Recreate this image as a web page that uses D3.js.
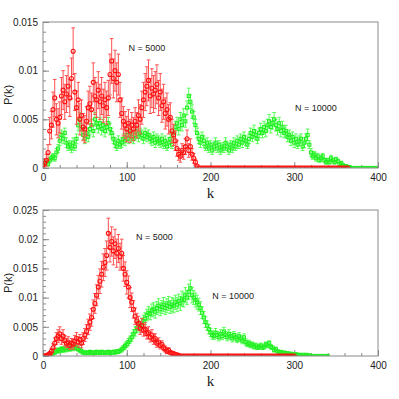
<!DOCTYPE html>
<html>
<head>
<meta charset="utf-8">
<script src="https://cdn.jsdelivr.net/npm/d3@7/dist/d3.min.js"></script>
<style>
  body { margin: 0; background: #fff; }
  svg { display: block; }
  .axis text { font-family: 'Liberation Sans', Arial, sans-serif; font-size: 10px; fill: #222; }
  .axis line { stroke: #8a8a8a; }
  .note { font-family: 'Liberation Sans', Arial, sans-serif; font-size: 9px; fill: #222; }
  .ylab { font-family: 'Liberation Sans', Arial, sans-serif; font-size: 11px; fill: #222; }
  .xlab { font-family: 'Liberation Serif', 'Times New Roman', serif; font-size: 15px; fill: #222; }
</style>
</head>
<body>
<div id="chart"></div>
<script>
// k is sampled every 2, values and errors are in units of 1e-4
var kStep = 2;
var kTicks = [0, 100, 200, 300, 400];

// top panel
var topTicks = [0, 0.005, 0.01, 0.015];
var topRed = [
  3, 5, 8, 16, 38, 44, 60, 72, 50, 46,
  52, 74, 80, 68, 76, 84, 72, 92, 120, 78,
  62, 70, 50, 54, 42, 40, 48, 62, 66, 60,
  88, 74, 70, 80, 68, 74, 64, 70, 62, 72,
  96, 110, 92, 100, 88, 96, 70, 56, 48, 44,
  40, 46, 38, 44, 40, 48, 44, 54, 50, 62,
  70, 78, 84, 90, 74, 82, 76, 80, 86, 72,
  78, 64, 68, 56, 60, 50, 52, 38, 34, 28,
  20, 14, 12, 18, 16, 22, 30, 18, 22, 14,
  10, 6, 2, 0, 0, 0, 0, 0, 0, 0,
  0, 0, 0, 0, 0, 0, 0, 0, 0, 0, 0, 0, 0, 0, 0, 0, 0, 0, 0, 0,
  0, 0, 0, 0, 0, 0, 0, 0, 0, 0, 0, 0, 0, 0, 0, 0, 0, 0, 0, 0,
  0, 0, 0, 0, 0, 0, 0, 0, 0, 0, 0, 0, 0, 0, 0, 0, 0, 0, 0, 0,
  0, 0, 0, 0, 0, 0, 0, 0, 0, 0, 0, 0, 0, 0, 0, 0, 0, 0, 0, 0,
  0, 0, 0
];
var topRedErr = [
  3, 4, 6, 8, 14, 14, 18, 19, 16, 15,
  16, 19, 20, 18, 19, 21, 19, 21, 24, 19,
  17, 18, 16, 16, 14, 14, 15, 17, 18, 17,
  20, 19, 18, 19, 18, 19, 17, 18, 17, 18,
  21, 23, 20, 21, 20, 21, 18, 16, 15, 14,
  13, 14, 12, 13, 12, 14, 13, 16, 15, 17,
  18, 19, 20, 21, 18, 20, 19, 19, 20, 18,
  19, 17, 18, 16, 17, 15, 15, 12, 11, 10,
  8, 6, 6, 7, 7, 8, 9, 7, 8, 6,
  5, 3, 1
];
var topGreen = [
  3, 5, 6, 4, 8, 10, 12, 10, 16, 20,
  28, 34, 30, 36, 26, 22, 24, 20, 26, 22,
  30, 44, 50, 40, 34, 30, 36, 32, 40, 44,
  38, 50, 46, 42, 46, 40, 44, 38, 42, 46,
  40, 36, 30, 26, 22, 28, 24, 26, 30, 28,
  34, 30, 36, 32, 30, 34, 38, 32, 36, 34,
  30, 36, 32, 34, 30, 28, 32, 26, 30, 28,
  26, 30, 24, 28, 22, 26, 30, 24, 36, 42,
  46, 40, 50, 44, 54, 48, 62, 74, 68, 58,
  52, 44, 36, 30, 26, 32, 28, 22, 26, 20,
  24, 18, 22, 26, 20, 24, 18, 22, 20, 26,
  22, 18, 24, 20, 26, 22, 28, 24, 30, 26,
  32, 28, 24, 30, 36, 32, 38, 34, 30, 36,
  40, 36, 42, 38, 44, 48, 42, 46, 50, 44,
  40, 46, 38, 42, 36, 38, 32, 34, 28, 32,
  26, 30, 24, 28, 30, 22, 26, 30, 34, 24,
  16, 12, 14, 10, 12, 8, 10, 12, 8, 6,
  8, 6, 10, 8, 6, 9, 7, 4, 5, 3,
  2, 2, 1, 1,
  0, 0, 0, 0, 0, 0, 0, 0, 0, 0, 0, 0, 0, 0, 0, 0, 0
];
var topGreenErr = [
  2, 2, 3, 2, 3, 3, 3, 3, 4, 4,
  5, 5, 5, 5, 5, 4, 4, 4, 5, 4,
  5, 6, 7, 6, 5, 5, 5, 5, 6, 6,
  6, 7, 6, 6, 6, 6, 6, 6, 6, 6,
  6, 5, 5, 5, 4, 5, 4, 5, 5, 5,
  5, 5, 5, 5, 5, 5, 5, 5, 5, 5,
  5, 5, 5, 5, 5, 5, 5, 5, 5, 5,
  5, 5, 4, 5, 4, 5, 5, 4, 5, 6,
  6, 6, 7, 6, 7, 6, 7, 8, 7, 7,
  6, 6, 5, 5, 5, 5, 5, 4, 5, 4,
  4, 4, 4, 5, 4, 4, 4, 4, 4, 5,
  4, 4, 4, 4, 5, 4, 5, 4, 5, 5,
  5, 5, 4, 5, 5, 5, 6, 5, 5, 5,
  6, 5, 6, 6, 6, 7, 6, 6, 7, 6,
  6, 6, 6, 6, 5, 6, 5, 5, 5, 5,
  5, 5, 4, 5, 5, 4, 5, 5, 6, 4,
  4, 3, 3, 3, 3, 2, 3, 3, 2, 2,
  2, 2, 3, 2, 2, 2, 2, 2, 2, 1,
  1, 1, 1, 1
];

// bottom panel
var bottomTicks = [0, 0.005, 0.01, 0.015, 0.02, 0.025];
var bottomRed = [
  0, 0, 1, 2, 4, 8, 14, 22, 30, 34,
  38, 30, 34, 26, 22, 24, 18, 22, 20, 26,
  30, 24, 28, 22, 30, 36, 42, 50, 58, 66,
  80, 90, 104, 118, 128, 140, 152, 160, 172, 210,
  186, 196, 180, 192, 176, 184, 170, 176, 150, 140,
  126, 118, 100, 92, 80, 68, 60, 56, 48, 52,
  44, 46, 38, 40, 32, 36, 28, 30, 22, 24,
  18, 20, 14, 12, 8, 10, 6, 5, 4, 3,
  2, 1,
  0, 0, 0, 0, 0, 0, 0, 0, 0, 0, 0, 0, 0, 0, 0, 0, 0, 0, 0, 0,
  0, 0, 0, 0, 0, 0, 0, 0, 0, 0, 0, 0, 0, 0, 0, 0, 0, 0, 0, 0,
  0, 0, 0, 0, 0, 0, 0, 0, 0, 0, 0, 0, 0, 0, 0, 0, 0, 0, 0, 0,
  0, 0, 0, 0, 0, 0, 0, 0, 0
];
var bottomRedErr = [
  0, 0, 1, 2, 3, 5, 7, 9, 10, 11,
  12, 10, 11, 9, 8, 9, 7, 8, 8, 9,
  10, 9, 9, 8, 10, 11, 12, 13, 14, 15,
  16, 17, 18, 20, 21, 22, 23, 24, 25, 26,
  25, 25, 24, 25, 24, 24, 23, 24, 22, 21,
  20, 19, 17, 16, 15, 14, 13, 12, 11, 12,
  10, 11, 9, 10, 8, 9, 8, 8, 7, 7,
  6, 6, 5, 5, 4, 4, 3, 3, 2, 2,
  1, 1
];
var bottomGreen = [
  0, 0, 1, 1, 2, 3, 5, 6, 8, 10,
  9, 12, 10, 13, 11, 14, 12, 15, 13, 16,
  14, 12, 10, 8, 6, 5, 6, 5, 7, 5,
  6, 5, 7, 6, 5, 7, 6, 5, 6, 7,
  5, 6, 7, 6, 8, 7, 9, 11, 14, 17,
  20, 24, 28, 32, 38, 42, 48, 52, 50, 56,
  60, 64, 70, 74, 72, 78, 80, 76, 82, 86,
  80, 84, 88, 82, 86, 90, 84, 88, 86, 92,
  88, 94, 90, 98, 96, 104, 100, 110, 116, 104,
  100, 96, 92, 88, 82, 74, 66, 58, 52, 46,
  40, 36, 34, 40, 36, 32, 38, 34, 42, 36,
  32, 38, 34, 30, 36, 32, 28, 34, 30, 26,
  32, 24, 20, 22, 18, 20, 16, 18, 14, 16,
  18, 14, 16, 20, 18, 22, 16, 14, 10, 12,
  8, 6, 7, 5, 6, 4, 5, 3, 4, 3,
  2, 3, 2, 2, 1, 2, 1, 2, 1, 1,
  0, 0, 0, 0, 0, 0, 0, 0, 0, 0, 0
];
var bottomGreenErr = [
  0, 0, 1, 1, 2, 2, 3, 3, 3, 4,
  4, 4, 4, 4, 4, 4, 4, 5, 4, 5,
  4, 4, 4, 3, 3, 2, 3, 2, 3, 2,
  3, 2, 3, 3, 2, 3, 3, 2, 3, 3,
  2, 3, 3, 3, 3, 3, 3, 4, 4, 5,
  5, 6, 6, 7, 7, 8, 8, 9, 9, 9,
  10, 10, 10, 11, 10, 11, 11, 11, 11, 12,
  11, 11, 12, 11, 12, 12, 11, 12, 12, 12,
  12, 12, 12, 13, 12, 13, 12, 13, 14, 13,
  12, 12, 12, 11, 11, 10, 10, 9, 8, 8,
  7, 7, 6, 7, 6, 6, 7, 6, 7, 6,
  6, 7, 6, 6, 6, 6, 5, 6, 5, 5,
  6, 5, 4, 5, 4, 4, 4, 4, 3, 4,
  4, 3, 4, 4, 4, 4, 4, 3, 3, 3,
  2, 2, 2, 2, 2, 2, 2, 1, 2, 1,
  1, 1, 1, 1, 1, 1, 1, 1, 1, 1
];

var labels5000 = 'N = 5000';
var labels10000 = 'N = 10000';

var width = 399;
var height = 399;

var svg = d3.select('#chart').append('svg')
  .attr('width', width)
  .attr('height', height);

// 値配列を点のリストにする
function toPoints(vals, errs) {
  return vals.map(function(v, i) {
    return { k: i * kStep, v: v * 1e-4, e: (errs[i] || 0) * 1e-4 };
  });
}

function fmtY(d) {
  return d === 0 ? '0' : String(+d.toFixed(3));
}

function drawPanel(cfg) {
  var x = d3.scaleLinear().domain([0, 400]).range([43, 378]);
  var y = d3.scaleLinear().domain([0, cfg.yMax]).range([cfg.bottom, cfg.top]);

  var g = svg.append('g').classed('panel', true);

  // clip for the markers
  svg.append('clipPath').attr('id', 'clip-' + cfg.name)
    .append('rect')
    .attr('x', x(0))
    .attr('y', y(cfg.yMax))
    .attr('width', x(400) - x(0))
    .attr('height', y(0) - y(cfg.yMax));

  // minor ticks (inside)
  var yMinor = d3.range(0, cfg.yMax + 1e-9, 0.001);
  g.append('g').attr('class', 'axis')
    .attr('transform', 'translate(' + x(0) + ',0)')
    .call(d3.axisLeft(y).tickValues(yMinor).tickSize(-3).tickFormat(''))
    .call(function(s) { s.select('.domain').remove(); });
  g.append('g').attr('class', 'axis')
    .attr('transform', 'translate(' + x(0) + ',0)')
    .call(d3.axisLeft(y).tickValues(cfg.ticks).tickSize(-6).tickPadding(5).tickFormat(fmtY))
    .call(function(s) { s.select('.domain').remove(); });

  g.append('g').attr('class', 'axis')
    .attr('transform', 'translate(0,' + y(0) + ')')
    .call(d3.axisBottom(x).tickValues(d3.range(0, 401, 20)).tickSize(-3).tickFormat(''))
    .call(function(s) { s.select('.domain').remove(); });
  g.append('g').attr('class', 'axis')
    .attr('transform', 'translate(0,' + y(0) + ')')
    .call(d3.axisBottom(x).tickValues(kTicks).tickSize(-6).tickPadding(6))
    .call(function(s) { s.select('.domain').remove(); });

  // data layer
  var dataLayer = g.append('g').attr('clip-path', 'url(#clip-' + cfg.name + ')');

  cfg.series.forEach(function(s) {
    var pts = toPoints(s.values, s.errors);
    var layer = dataLayer.append('g');
    var withErr = pts.filter(function(d) { return d.e > 0; });

    var bar = layer.selectAll('.err').data(withErr).enter().append('g').attr('class', 'err')
      .attr('stroke', s.errColor)
      .attr('stroke-width', 1);
    bar.append('line')
      .attr('x1', function(d) { return x(d.k); })
      .attr('x2', function(d) { return x(d.k); })
      .attr('y1', function(d) { return y(d.v - d.e); })
      .attr('y2', function(d) { return y(d.v + d.e); });
    bar.append('line')
      .attr('x1', function(d) { return x(d.k) - 1.8; })
      .attr('x2', function(d) { return x(d.k) + 1.8; })
      .attr('y1', function(d) { return y(d.v + d.e); })
      .attr('y2', function(d) { return y(d.v + d.e); });
    bar.append('line')
      .attr('x1', function(d) { return x(d.k) - 1.8; })
      .attr('x2', function(d) { return x(d.k) + 1.8; })
      .attr('y1', function(d) { return y(d.v - d.e); })
      .attr('y2', function(d) { return y(d.v - d.e); });

    if (s.marker === 'circle') {
      layer.selectAll('.mk').data(pts).enter().append('circle')
        .attr('cx', function(d) { return x(d.k); })
        .attr('cy', function(d) { return y(d.v); })
        .attr('r', 2)
        .attr('fill', 'none')
        .attr('stroke', s.color)
        .attr('stroke-width', 1.1);
    } else {
      layer.selectAll('.mk').data(pts).enter().append('rect')
        .attr('x', function(d) { return x(d.k) - 1.5; })
        .attr('y', function(d) { return y(d.v) - 1.5; })
        .attr('width', 3)
        .attr('height', 3)
        .attr('fill', 'none')
        .attr('stroke', s.color)
        .attr('stroke-width', 1.1);
    }
  });

  // frame
  g.append('rect')
    .attr('x', x(0))
    .attr('y', y(cfg.yMax))
    .attr('width', x(400) - x(0))
    .attr('height', y(0) - y(cfg.yMax))
    .attr('fill', 'none')
    .attr('stroke', '#8a8a8a')
    .attr('stroke-width', 1);

  // notes
  cfg.notes.forEach(function(n) {
    g.append('text').attr('class', 'note')
      .attr('x', x(n.k))
      .attr('y', y(n.v))
      .text(n.text);
  });

  g.append('text').attr('class', 'ylab')
    .attr('transform', 'translate(12,' + ((y(0) + y(cfg.yMax)) / 2) + ') rotate(-90)')
    .attr('text-anchor', 'middle')
    .text('P(k)');

  g.append('text').attr('class', 'xlab')
    .attr('x', (x(0) + x(400)) / 2)
    .attr('y', y(0) + 30)
    .attr('text-anchor', 'middle')
    .text('k');
}

drawPanel({
  name: 'top',
  top: 22,
  bottom: 168,
  yMax: 0.015,
  ticks: topTicks,
  series: [
    { values: topGreen, errors: topGreenErr, color: '#22ee22', errColor: '#55ff55', marker: 'square' },
    { values: topRed, errors: topRedErr, color: '#ff1010', errColor: '#ff5050', marker: 'circle' }
  ],
  notes: [
    { k: 102, v: 0.012, text: labels5000 },
    { k: 301, v: 0.0059, text: labels10000 }
  ]
});

drawPanel({
  name: 'bottom',
  top: 210,
  bottom: 356,
  yMax: 0.025,
  ticks: bottomTicks,
  series: [
    { values: bottomGreen, errors: bottomGreenErr, color: '#22ee22', errColor: '#55ff55', marker: 'square' },
    { values: bottomRed, errors: bottomRedErr, color: '#ff1010', errColor: '#ff5050', marker: 'circle' }
  ],
  notes: [
    { k: 111, v: 0.0199, text: labels5000 },
    { k: 202, v: 0.0098, text: labels10000 }
  ]
});
</script>
</body>
</html>
